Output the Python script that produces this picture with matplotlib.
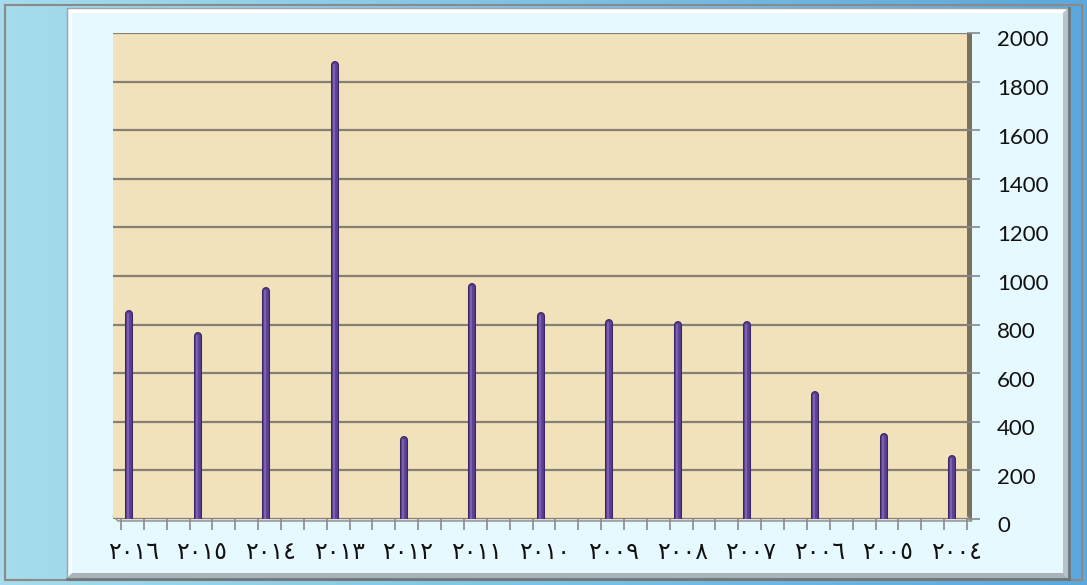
import matplotlib
matplotlib.use('Agg')
import matplotlib.pyplot as plt
from matplotlib.patches import Rectangle, Polygon
from matplotlib.transforms import ScaledTranslation, blended_transform_factory
import numpy as np

# Data (years shown right-to-left as in the original chart)
years = ['٢٠١٦', '٢٠١٥', '٢٠١٤', '٢٠١٣', '٢٠١٢', '٢٠١١', '٢٠١٠',
         '٢٠٠٩', '٢٠٠٨', '٢٠٠٧', '٢٠٠٦', '٢٠٠٥', '٢٠٠٤']
values = [860, 770, 955, 1885, 340, 970, 850, 825, 815, 815, 525, 355, 265]
y_ticks = [0, 200, 400, 600, 800, 1000, 1200, 1400, 1600, 1800, 2000]

W, H = 1087, 585
fig = plt.figure(figsize=(W / 100, H / 100), dpi=100)

# Background / frame drawn in pixel coordinates
bg = fig.add_axes([0, 0, 1, 1])
bg.set_xlim(0, W)
bg.set_ylim(H, 0)
bg.axis('off')

grad = np.linspace(0, 1, 256).reshape(1, -1)
cmap = matplotlib.colors.LinearSegmentedColormap.from_list('water', ['#a6dcec', '#7cc2e4', '#5ca8dc'])
bg.imshow(grad, extent=[0, W, H, 0], aspect='auto', cmap=cmap, zorder=0)
bg.add_patch(Rectangle((5, 5), W - 10, H - 10, fill=False, edgecolor='#8a8a8a', lw=1.5, zorder=1))

# Inner bevelled panel
px0, py0, px1, py1 = 67, 8, 1068, 578
bg.add_patch(Rectangle((px0, py0), px1 - px0, py1 - py0, facecolor='#e6f9fe', edgecolor='none', zorder=2))
bev = 5
bg.add_patch(Polygon([(px0, py0), (px1, py0), (px1 - bev, py0 + bev), (px0 + bev, py0 + bev)],
                     facecolor='#ffffff', edgecolor='none', zorder=3))
bg.add_patch(Polygon([(px0, py0), (px0 + bev, py0 + bev), (px0 + bev, py1 - bev), (px0, py1)],
                     facecolor='#f4fdff', edgecolor='none', zorder=3))
bg.add_patch(Polygon([(px1, py0), (px1, py1), (px1 - bev, py1 - bev), (px1 - bev, py0 + bev)],
                     facecolor='#b9c3c6', edgecolor='none', zorder=3))
bg.add_patch(Polygon([(px0, py1), (px1, py1), (px1 - bev, py1 - bev), (px0 + bev, py1 - bev)],
                     facecolor='#aab4b8', edgecolor='none', zorder=3))
bg.plot([px0, px0, px1], [py1, py0, py0], color='#9aa4a8', lw=1, zorder=4)
bg.plot([px1 + 1, px1 + 1], [py0, py1 + 1], color='#6f777a', lw=2, zorder=4)
bg.plot([px0, px1 + 1], [py1 + 1, py1 + 1], color='#6f777a', lw=2, zorder=4)

# Side wall and floor of the pseudo 3D plot area
bg.add_patch(Rectangle((967, 33), 5, 487, facecolor='#7a7062', edgecolor='none', zorder=5))
bg.add_patch(Polygon([(113, 516), (967, 516), (972, 521), (118, 521)],
                     facecolor='#dcdcdc', edgecolor='#8c8c8c', lw=1, zorder=5))

# Main axes
left, right, bottom, top = 113, 967, 519, 33
ax = fig.add_axes([left / W, 1 - bottom / H, (right - left) / W, (bottom - top) / H])
ax.set_facecolor('#f2e2bc')
x = np.arange(len(years))
ax.set_xlim(-0.236, 12.105)
ax.set_ylim(0, 2000)

for s in ax.spines.values():
    s.set_visible(False)

ax.set_yticks(y_ticks)
ax.yaxis.grid(True, color='#857f76', lw=1.6)
ax.set_axisbelow(True)
ax.yaxis.set_ticks_position('right')
ax.tick_params(axis='y', length=9, width=1.2, color='#8a8a8a', labelright=False)
for v in y_ticks:
    ax.text(1.035, v, str(v), transform=blended_transform_factory(ax.transAxes, ax.transData)
            + ScaledTranslation(0, -0.075, fig.dpi_scale_trans),
            ha='left', va='center', fontsize=16, family='Lato', color='#111111', clip_on=False)

# Category labels and floor tick marks
ax.set_xticks(x + 0.06)
ax.set_xticklabels(years, fontsize=17, family=['DejaVu Sans'], color='#111111')
ax.tick_params(axis='x', length=0, pad=15)
minor = -0.12 + np.arange(38) / 3
ax.set_xticks(minor, minor=True)
ax.tick_params(axis='x', which='minor', length=8, width=1.2, color='#8a8a8a', direction='out', pad=0)

# Cylinder-like bars: round-capped lines, shifted down so the cap ends at the value
down = ScaledTranslation(0, -0.04, fig.dpi_scale_trans)
ax.vlines(x, 0, values, lw=5.8, color='#3d2865', capstyle='round', transform=ax.transData + down, zorder=3)
ax.vlines(x, 0, values, lw=4.0, color='#5c4092', capstyle='round', transform=ax.transData + down, zorder=4)
hl = ax.transData + ScaledTranslation(-0.01, -0.04, fig.dpi_scale_trans)
ax.vlines(x, 0, values, lw=1.6, color='#7c60b4', capstyle='round', transform=hl, zorder=5)

fig.savefig('out.png', dpi=100)
